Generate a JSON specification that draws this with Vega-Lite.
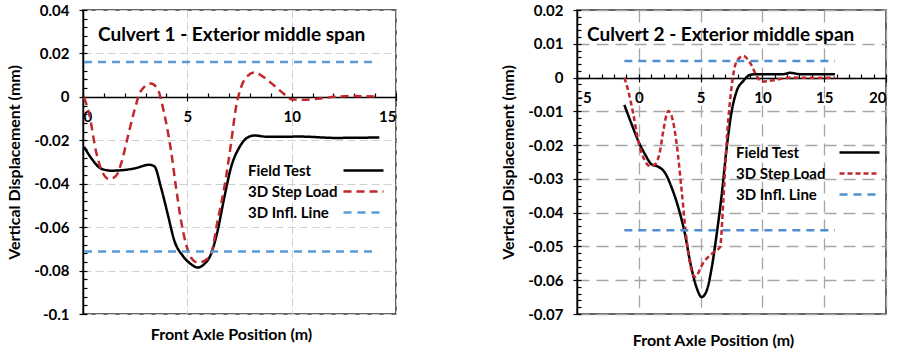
{
  "$schema": "https://vega.github.io/schema/vega-lite/v6.json",
  "padding": {"left": 5, "top": 2, "right": 2, "bottom": 2},
  "spacing": 101,
  "config": {
    "font": "Lato",
    "view": {"stroke": "#333333", "strokeWidth": 1.5},
    "axis": {"labelFont": "Lato", "labelFontSize": 15, "labelFontWeight": "bold", "labelColor": "#000000", "titleFont": "Lato", "titleFontSize": 16, "titleFontWeight": "bold", "titleColor": "#000000", "domainColor": "#000000", "tickColor": "#000000", "domainWidth": 1.5, "tickWidth": 1.2},
    "legend": {"labelFont": "Lato", "labelFontSize": 15, "labelFontWeight": "bold", "labelColor": "#000000"},
    "title": {"font": "Lato", "fontSize": 19, "fontWeight": "bold", "color": "#000000"}
  },
  "resolve": {"scale": {"color": "independent", "strokeDash": "independent"}, "legend": {"color": "independent", "strokeDash": "independent"}},
  "hconcat": [
    {
      "width": 313,
      "height": 304,
      "title": {"text": "Culvert 1 - Exterior middle span", "anchor": "start", "frame": "group", "dx": 15, "offset": -42},
      "data": {"values": [
        {"series": "Field Test", "seg": "f", "x": 0.05, "y": -0.023},
        {"series": "Field Test", "seg": "f", "x": 0.38, "y": -0.028},
        {"series": "Field Test", "seg": "f", "x": 0.86, "y": -0.033},
        {"series": "Field Test", "seg": "f", "x": 1.34, "y": -0.034},
        {"series": "Field Test", "seg": "f", "x": 2.45, "y": -0.033},
        {"series": "Field Test", "seg": "f", "x": 3.18, "y": -0.0313},
        {"series": "Field Test", "seg": "f", "x": 3.42, "y": -0.032},
        {"series": "Field Test", "seg": "f", "x": 3.74, "y": -0.0418},
        {"series": "Field Test", "seg": "f", "x": 4.06, "y": -0.054},
        {"series": "Field Test", "seg": "f", "x": 4.38, "y": -0.0663},
        {"series": "Field Test", "seg": "f", "x": 4.78, "y": -0.0732},
        {"series": "Field Test", "seg": "f", "x": 5.17, "y": -0.077},
        {"series": "Field Test", "seg": "f", "x": 5.5, "y": -0.0786},
        {"series": "Field Test", "seg": "f", "x": 5.81, "y": -0.077},
        {"series": "Field Test", "seg": "f", "x": 6.13, "y": -0.0725},
        {"series": "Field Test", "seg": "f", "x": 6.45, "y": -0.0617},
        {"series": "Field Test", "seg": "f", "x": 6.77, "y": -0.0464},
        {"series": "Field Test", "seg": "f", "x": 7.09, "y": -0.0326},
        {"series": "Field Test", "seg": "f", "x": 7.49, "y": -0.0233},
        {"series": "Field Test", "seg": "f", "x": 7.89, "y": -0.0187},
        {"series": "Field Test", "seg": "f", "x": 8.21, "y": -0.0178},
        {"series": "Field Test", "seg": "f", "x": 8.85, "y": -0.0184},
        {"series": "Field Test", "seg": "f", "x": 10.45, "y": -0.0183},
        {"series": "Field Test", "seg": "f", "x": 12.05, "y": -0.0189},
        {"series": "Field Test", "seg": "f", "x": 14.2, "y": -0.0187},
        {"series": "3D Step Load", "seg": "s", "x": 0.05, "y": -0.0003},
        {"series": "3D Step Load", "seg": "s", "x": 0.3, "y": -0.008},
        {"series": "3D Step Load", "seg": "s", "x": 0.62, "y": -0.0249},
        {"series": "3D Step Load", "seg": "s", "x": 0.94, "y": -0.0349},
        {"series": "3D Step Load", "seg": "s", "x": 1.26, "y": -0.0379},
        {"series": "3D Step Load", "seg": "s", "x": 1.58, "y": -0.0364},
        {"series": "3D Step Load", "seg": "s", "x": 1.82, "y": -0.031},
        {"series": "3D Step Load", "seg": "s", "x": 2.14, "y": -0.0187},
        {"series": "3D Step Load", "seg": "s", "x": 2.46, "y": -0.0064},
        {"series": "3D Step Load", "seg": "s", "x": 2.78, "y": 0.0028},
        {"series": "3D Step Load", "seg": "s", "x": 3.26, "y": 0.0061},
        {"series": "3D Step Load", "seg": "s", "x": 3.58, "y": 0.0035},
        {"series": "3D Step Load", "seg": "s", "x": 3.9, "y": -0.008},
        {"series": "3D Step Load", "seg": "s", "x": 4.22, "y": -0.0249},
        {"series": "3D Step Load", "seg": "s", "x": 4.46, "y": -0.0418},
        {"series": "3D Step Load", "seg": "s", "x": 4.7, "y": -0.0571},
        {"series": "3D Step Load", "seg": "s", "x": 4.94, "y": -0.0679},
        {"series": "3D Step Load", "seg": "s", "x": 5.17, "y": -0.074},
        {"series": "3D Step Load", "seg": "s", "x": 5.5, "y": -0.0763},
        {"series": "3D Step Load", "seg": "s", "x": 5.81, "y": -0.0755},
        {"series": "3D Step Load", "seg": "s", "x": 6.13, "y": -0.0725},
        {"series": "3D Step Load", "seg": "s", "x": 6.45, "y": -0.0571},
        {"series": "3D Step Load", "seg": "s", "x": 6.77, "y": -0.0418},
        {"series": "3D Step Load", "seg": "s", "x": 7.09, "y": -0.0218},
        {"series": "3D Step Load", "seg": "s", "x": 7.33, "y": -0.0049},
        {"series": "3D Step Load", "seg": "s", "x": 7.57, "y": 0.0043},
        {"series": "3D Step Load", "seg": "s", "x": 7.89, "y": 0.0097},
        {"series": "3D Step Load", "seg": "s", "x": 8.21, "y": 0.0112},
        {"series": "3D Step Load", "seg": "s", "x": 8.69, "y": 0.0089},
        {"series": "3D Step Load", "seg": "s", "x": 9.17, "y": 0.0051},
        {"series": "3D Step Load", "seg": "s", "x": 9.65, "y": 0.0012},
        {"series": "3D Step Load", "seg": "s", "x": 9.97, "y": -0.0011},
        {"series": "3D Step Load", "seg": "s", "x": 10.45, "y": -0.0013},
        {"series": "3D Step Load", "seg": "s", "x": 11.25, "y": -0.0009},
        {"series": "3D Step Load", "seg": "s", "x": 12.05, "y": 0},
        {"series": "3D Step Load", "seg": "s", "x": 12.85, "y": 0.0004},
        {"series": "3D Step Load", "seg": "s", "x": 13.97, "y": 0.0001},
        {"series": "3D Infl. Line", "seg": "a", "x": 0.05, "y": 0.016},
        {"series": "3D Infl. Line", "seg": "a", "x": 13.9, "y": 0.016},
        {"series": "3D Infl. Line", "seg": "b", "x": 0.05, "y": -0.0712},
        {"series": "3D Infl. Line", "seg": "b", "x": 13.9, "y": -0.0712}
      ]},
      "layer": [
        {
          "mark": {"type": "line", "strokeWidth": 2.5, "interpolate": "monotone"},
          "encoding": {
            "x": {"field": "x", "type": "quantitative", "scale": {"domain": [0, 15], "nice": false, "zero": false},
              "axis": {"values": [0, 5, 10, 15], "offset": -217, "tickSize": 4, "labelPadding": 8, "grid": true, "gridColor": "#d0d0d0", "gridDash": [8, 4], "title": "Front Axle Position (m)", "titleY": 229, "titleX": 148, "labelExpr": "'' + datum.value"}},
            "y": {"field": "y", "type": "quantitative", "scale": {"domain": [-0.1, 0.04], "nice": false, "zero": false},
              "axis": {"values": [-0.1, -0.08, -0.06, -0.04, -0.02, 0, 0.02, 0.04], "tickSize": 4, "labelPadding": 10, "grid": true, "gridColor": "#d0d0d0", "gridDash": [8, 4], "title": "Vertical Displacement (mm)", "titlePadding": 11, "labelExpr": "'' + datum.value"}},
            "color": {"field": "series", "type": "nominal", "scale": {"domain": ["Field Test", "3D Step Load", "3D Infl. Line"], "range": ["#000000", "#c0282d", "#5b9bd5"]},
              "legend": {"orient": "none", "legendX": 167, "legendY": 153, "title": null, "symbolType": "M-4,0H4", "symbolSize": 100, "symbolStrokeWidth": 2.5, "symbolOffset": 106, "labelOffset": -123, "rowPadding": 5}},
            "strokeDash": {"field": "series", "type": "nominal", "scale": {"domain": ["Field Test", "3D Step Load", "3D Infl. Line"], "range": [[1, 0], [8, 5], [8, 6]]},
              "legend": {"orient": "none", "legendX": 167, "legendY": 153, "title": null, "symbolType": "M-4,0H4", "symbolSize": 100, "symbolStrokeWidth": 2.5, "symbolOffset": 106, "labelOffset": -123, "rowPadding": 5}},
            "detail": {"field": "seg"}
          }
        },
        {
          "mark": {"type": "point", "opacity": 0},
          "encoding": {
            "x": {"field": "x", "type": "quantitative",
              "axis": {"orient": "bottom", "values": [0,1,2,3,4,5,6,7,8,9,10,11,12,13,14,15], "offset": -217, "tickSize": -4, "labels": false, "domain": false, "grid": false, "title": null}},
            "y": {"field": "y", "type": "quantitative",
              "axis": {"orient": "left", "values": [-0.1,-0.096,-0.092,-0.088,-0.084,-0.08,-0.076,-0.072,-0.068,-0.064,-0.06,-0.056,-0.052,-0.048,-0.044,-0.04,-0.036,-0.032,-0.028,-0.024,-0.02,-0.016,-0.012,-0.008,-0.004,0,0.004,0.008,0.012,0.016,0.02,0.024,0.028,0.032,0.036,0.04], "tickSize": -4, "labels": false, "domain": false, "grid": false, "title": null}}
          }
        }
      ],
      "resolve": {"axis": {"x": "independent", "y": "independent"}}
    },
    {
      "width": 309,
      "height": 304,
      "title": {"text": "Culvert 2 - Exterior middle span", "anchor": "start", "frame": "group", "dx": 10, "offset": -42},
      "data": {"values": [
        {"series": "Field Test", "seg": "f", "x": -1.17, "y": -0.0081},
        {"series": "Field Test", "seg": "f", "x": -0.58, "y": -0.0138},
        {"series": "Field Test", "seg": "f", "x": -0.04, "y": -0.0188},
        {"series": "Field Test", "seg": "f", "x": 0.5, "y": -0.0227},
        {"series": "Field Test", "seg": "f", "x": 1.04, "y": -0.0257},
        {"series": "Field Test", "seg": "f", "x": 1.58, "y": -0.0264},
        {"series": "Field Test", "seg": "f", "x": 2.12, "y": -0.0282},
        {"series": "Field Test", "seg": "f", "x": 2.66, "y": -0.0326},
        {"series": "Field Test", "seg": "f", "x": 3.2, "y": -0.0385},
        {"series": "Field Test", "seg": "f", "x": 3.74, "y": -0.0464},
        {"series": "Field Test", "seg": "f", "x": 4.14, "y": -0.0543},
        {"series": "Field Test", "seg": "f", "x": 4.68, "y": -0.0622},
        {"series": "Field Test", "seg": "f", "x": 5.08, "y": -0.065},
        {"series": "Field Test", "seg": "f", "x": 5.48, "y": -0.0632},
        {"series": "Field Test", "seg": "f", "x": 5.9, "y": -0.0563},
        {"series": "Field Test", "seg": "f", "x": 6.3, "y": -0.0464},
        {"series": "Field Test", "seg": "f", "x": 6.71, "y": -0.0346},
        {"series": "Field Test", "seg": "f", "x": 7.11, "y": -0.0208},
        {"series": "Field Test", "seg": "f", "x": 7.52, "y": -0.0099},
        {"series": "Field Test", "seg": "f", "x": 7.92, "y": -0.004},
        {"series": "Field Test", "seg": "f", "x": 8.46, "y": -0.001},
        {"series": "Field Test", "seg": "f", "x": 9.0, "y": 0.0008},
        {"series": "Field Test", "seg": "f", "x": 9.54, "y": 0.001},
        {"series": "Field Test", "seg": "f", "x": 11.7, "y": 0.001},
        {"series": "Field Test", "seg": "f", "x": 12.23, "y": 0.0014},
        {"series": "Field Test", "seg": "f", "x": 13.04, "y": 0.001},
        {"series": "Field Test", "seg": "f", "x": 15.87, "y": 0.001},
        {"series": "3D Step Load", "seg": "s", "x": -1.17, "y": 0},
        {"series": "3D Step Load", "seg": "s", "x": -0.85, "y": -0.004},
        {"series": "3D Step Load", "seg": "s", "x": -0.44, "y": -0.0109},
        {"series": "3D Step Load", "seg": "s", "x": -0.04, "y": -0.0188},
        {"series": "3D Step Load", "seg": "s", "x": 0.37, "y": -0.0237},
        {"series": "3D Step Load", "seg": "s", "x": 0.91, "y": -0.0262},
        {"series": "3D Step Load", "seg": "s", "x": 1.31, "y": -0.0257},
        {"series": "3D Step Load", "seg": "s", "x": 1.72, "y": -0.0217},
        {"series": "3D Step Load", "seg": "s", "x": 1.98, "y": -0.0158},
        {"series": "3D Step Load", "seg": "s", "x": 2.39, "y": -0.0099},
        {"series": "3D Step Load", "seg": "s", "x": 2.66, "y": -0.0114},
        {"series": "3D Step Load", "seg": "s", "x": 3.07, "y": -0.0198},
        {"series": "3D Step Load", "seg": "s", "x": 3.47, "y": -0.0336},
        {"series": "3D Step Load", "seg": "s", "x": 3.88, "y": -0.0484},
        {"series": "3D Step Load", "seg": "s", "x": 4.28, "y": -0.0573},
        {"series": "3D Step Load", "seg": "s", "x": 4.55, "y": -0.059},
        {"series": "3D Step Load", "seg": "s", "x": 5.22, "y": -0.0548},
        {"series": "3D Step Load", "seg": "s", "x": 6.03, "y": -0.0518},
        {"series": "3D Step Load", "seg": "s", "x": 6.57, "y": -0.0502},
        {"series": "3D Step Load", "seg": "s", "x": 6.84, "y": -0.0365},
        {"series": "3D Step Load", "seg": "s", "x": 7.11, "y": -0.0188},
        {"series": "3D Step Load", "seg": "s", "x": 7.38, "y": -0.0069},
        {"series": "3D Step Load", "seg": "s", "x": 7.65, "y": 0.001},
        {"series": "3D Step Load", "seg": "s", "x": 7.92, "y": 0.0049},
        {"series": "3D Step Load", "seg": "s", "x": 8.46, "y": 0.0064},
        {"series": "3D Step Load", "seg": "s", "x": 9.0, "y": 0.0044},
        {"series": "3D Step Load", "seg": "s", "x": 9.54, "y": 0.0005},
        {"series": "3D Step Load", "seg": "s", "x": 9.94, "y": -0.0012},
        {"series": "3D Step Load", "seg": "s", "x": 10.88, "y": -0.0008},
        {"series": "3D Step Load", "seg": "s", "x": 12.23, "y": 0},
        {"series": "3D Step Load", "seg": "s", "x": 14.38, "y": -0.0001},
        {"series": "3D Step Load", "seg": "s", "x": 15.87, "y": 0},
        {"series": "3D Infl. Line", "seg": "a", "x": -1.17, "y": 0.0049},
        {"series": "3D Infl. Line", "seg": "a", "x": 15.87, "y": 0.0049},
        {"series": "3D Infl. Line", "seg": "b", "x": -1.17, "y": -0.0452},
        {"series": "3D Infl. Line", "seg": "b", "x": 15.87, "y": -0.0452}
      ]},
      "layer": [
        {
          "mark": {"type": "line", "strokeWidth": 2.5, "interpolate": "monotone"},
          "encoding": {
            "x": {"field": "x", "type": "quantitative", "scale": {"domain": [-5, 20], "nice": false, "zero": false},
              "axis": {"values": [-5, 0, 5, 10, 15, 20], "offset": -236, "tickSize": 4, "labelPadding": 8, "grid": true, "gridColor": "#a6a6a6", "gridDash": [12, 7], "gridWidth": 1.3, "title": "Front Axle Position (m)", "titleY": 254, "titleX": 136, "labelExpr": "'' + datum.value"}},
            "y": {"field": "y", "type": "quantitative", "scale": {"domain": [-0.07, 0.02], "nice": false, "zero": false},
              "axis": {"values": [-0.07, -0.06, -0.05, -0.04, -0.03, -0.02, -0.01, 0, 0.01, 0.02], "tickSize": 4, "labelPadding": 10, "grid": true, "gridColor": "#a6a6a6", "gridDash": [12, 7], "gridWidth": 1.3, "title": "Vertical Displacement (mm)", "titlePadding": 11, "labelExpr": "'' + datum.value"}},
            "color": {"field": "series", "type": "nominal", "scale": {"domain": ["Field Test", "3D Step Load", "3D Infl. Line"], "range": ["#000000", "#c0282d", "#4f8fd0"]},
              "legend": {"orient": "none", "legendX": 161, "legendY": 135, "title": null, "symbolType": "M-4,0H4", "symbolSize": 100, "symbolStrokeWidth": 2.5, "symbolOffset": 114, "labelOffset": -131, "rowPadding": 5}},
            "strokeDash": {"field": "series", "type": "nominal", "scale": {"domain": ["Field Test", "3D Step Load", "3D Infl. Line"], "range": [[1, 0], [5, 3], [8, 6]]},
              "legend": {"orient": "none", "legendX": 161, "legendY": 135, "title": null, "symbolType": "M-4,0H4", "symbolSize": 100, "symbolStrokeWidth": 2.5, "symbolOffset": 114, "labelOffset": -131, "rowPadding": 5}},
            "detail": {"field": "seg"}
          }
        },
        {
          "mark": {"type": "point", "opacity": 0},
          "encoding": {
            "x": {"field": "x", "type": "quantitative",
              "axis": {"orient": "bottom", "values": [-5,-4,-3,-2,-1,0,1,2,3,4,5,6,7,8,9,10,11,12,13,14,15,16,17,18,19,20], "offset": -236, "tickSize": -4, "labels": false, "domain": false, "grid": false, "title": null}},
            "y": {"field": "y", "type": "quantitative",
              "axis": {"orient": "left", "values": [-0.07,-0.068,-0.066,-0.064,-0.062,-0.06,-0.058,-0.056,-0.054,-0.052,-0.05,-0.048,-0.046,-0.044,-0.042,-0.04,-0.038,-0.036,-0.034,-0.032,-0.03,-0.028,-0.026,-0.024,-0.022,-0.02,-0.018,-0.016,-0.014,-0.012,-0.01,-0.008,-0.006,-0.004,-0.002,0,0.002,0.004,0.006,0.008,0.01,0.012,0.014,0.016,0.018,0.02], "tickSize": -4, "labels": false, "domain": false, "grid": false, "title": null}}
          }
        }
      ],
      "resolve": {"axis": {"x": "independent", "y": "independent"}}
    }
  ]
}
